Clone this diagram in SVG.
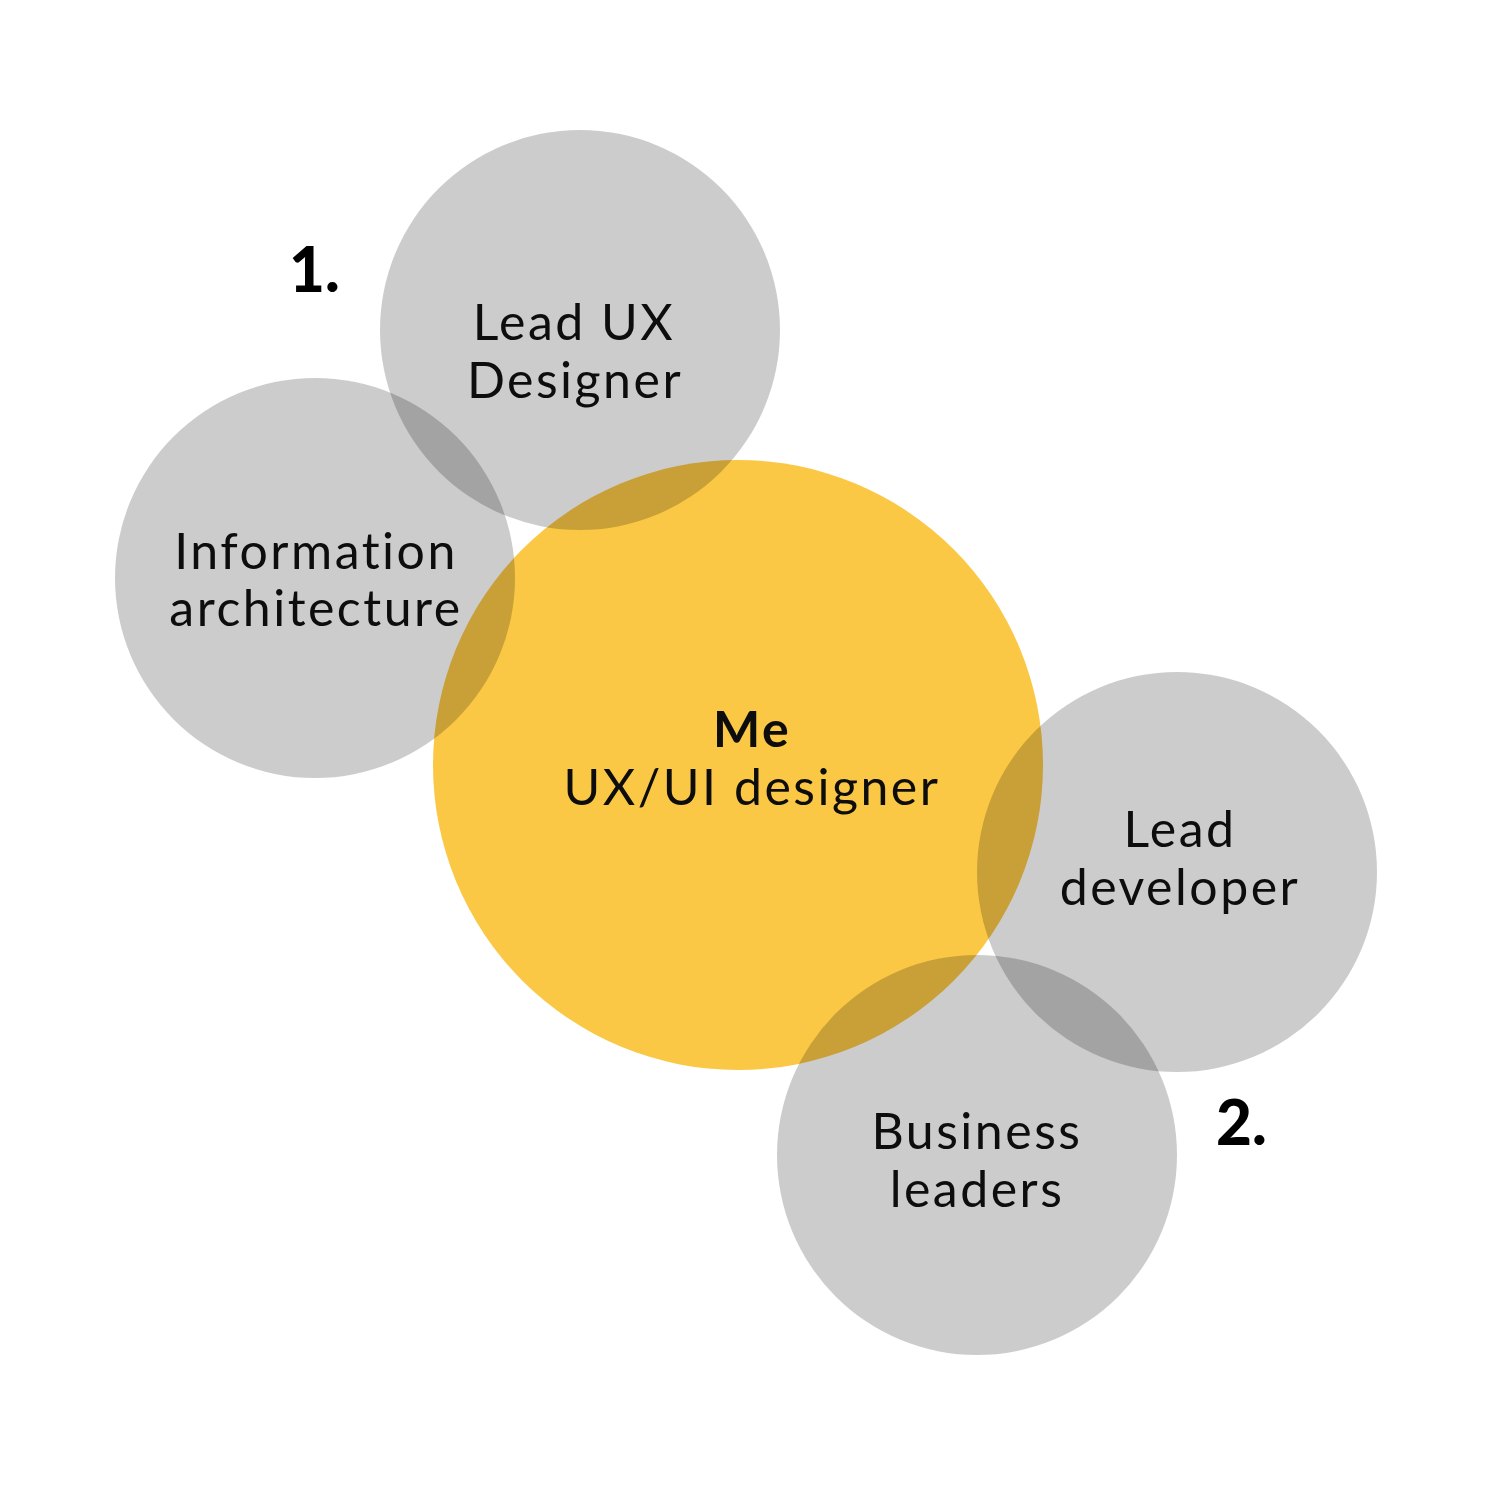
<svg xmlns="http://www.w3.org/2000/svg" width="1504" height="1504" viewBox="0 0 1504 1504">
<style>
.g{fill:#000;fill-opacity:0.2}
.y{fill:#fbc845}
.t{font-family:Lato,"Noto Sans",sans-serif;font-size:50px;fill:#0d0d0d;text-anchor:middle;letter-spacing:2.5px}
.b{font-weight:bold}
.n{font-family:Lato,"Noto Sans",sans-serif;font-size:62px;font-weight:900;fill:#000}
</style>
<rect width="1504" height="1504" fill="#fff"/>
<g id="me"><circle class="y" cx="738" cy="765" r="305"/></g>
<g id="lead-ux"><circle class="g" cx="580" cy="330" r="200"/></g>
<g id="info-arch"><circle class="g" cx="315" cy="578" r="200"/></g>
<g id="lead-dev"><circle class="g" cx="1177" cy="872" r="200"/></g>
<g id="business"><circle class="g" cx="977" cy="1155" r="200"/></g>
<g id="connectors"></g>
<g id="labels">
<text class="t" x="574" y="340">Lead UX</text>
<text class="t" x="575" y="398">Designer</text>
<text class="t" x="316" y="569">Information</text>
<text class="t" x="316" y="626">architecture</text>
<text class="t b" x="752" y="747">Me</text>
<text class="t" x="752" y="805">UX/UI designer</text>
<text class="t" x="1180" y="847">Lead</text>
<text class="t" x="1180" y="905">developer</text>
<text class="t" x="977" y="1149">Business</text>
<text class="t" x="977" y="1207">leaders</text>
<text class="n" x="289" y="292">1.</text>
<text class="n" x="1216" y="1145">2.</text>
</g>
</svg>
